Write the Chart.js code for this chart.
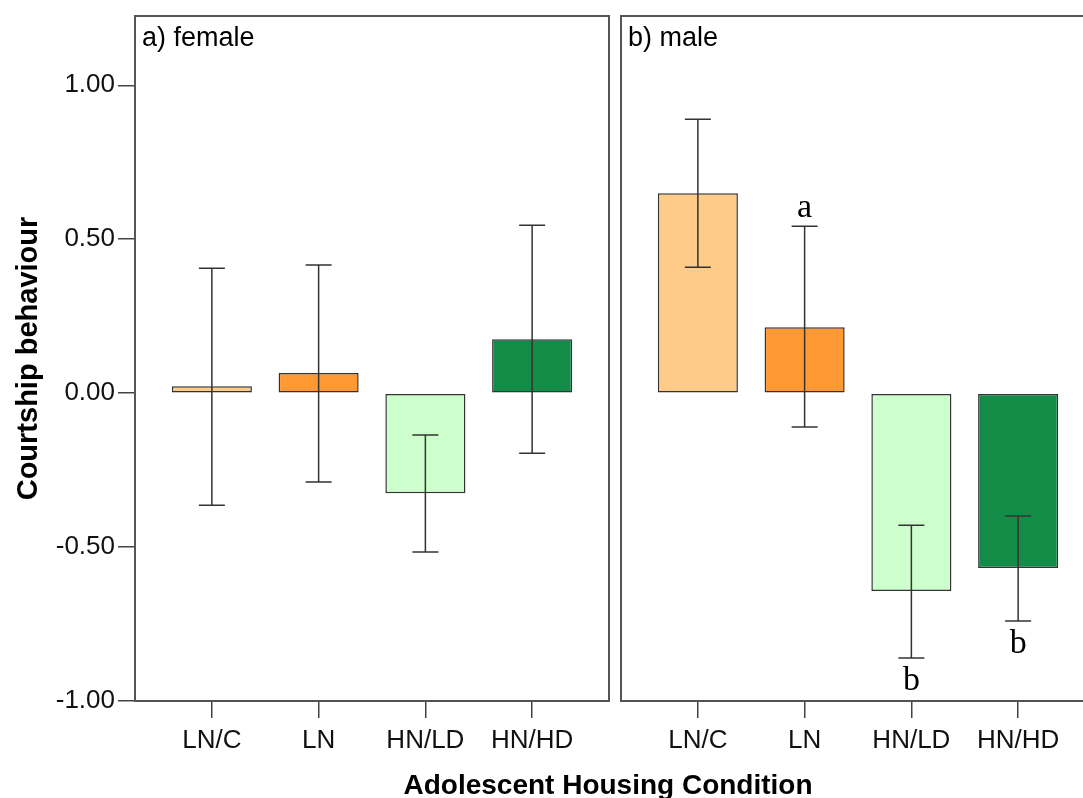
<!DOCTYPE html>
<html>
<head>
<meta charset="utf-8">
<title>Courtship behaviour</title>
<script src="https://cdn.jsdelivr.net/npm/chart.js@4.4.1/dist/chart.umd.min.js"></script>
<style>
  html, body { margin: 0; padding: 0; background: #fff; }
  body { width: 1083px; height: 798px; overflow: hidden; position: relative; }
  #femaleWrap { position: absolute; left: 0; top: 0; }
  #maleWrap { position: absolute; left: 611px; top: 0; }
  #xTitle {
    position: absolute; left: 0; top: 769px; width: 1216px;
    text-align: center; line-height: 28px;
    font: bold 28px 'Liberation Sans', Arial, sans-serif; color: #000;
  }
</style>
</head>
<body>
<div id="femaleWrap"><canvas id="femaleChart" width="620" height="798"></canvas></div>
<div id="maleWrap"><canvas id="maleChart" width="495" height="798"></canvas></div>
<div id="xTitle">Adolescent Housing Condition</div>

<script>
// Data
const categories = ['LN/C', 'LN', 'HN/LD', 'HN/HD'];
const barColors = ['#FECC88', '#FE9933', '#CCFFCC', '#128C47'];
const yTicks = [-1, -0.5, 0, 0.5, 1];

const femaleMeans = [0.022, 0.065, -0.325, 0.175];
const femaleUpper = [0.406, 0.416, -0.136, 0.545];
const femaleLower = [-0.364, -0.289, -0.516, -0.195];

const maleMeans = [0.649, 0.214, -0.643, -0.568];
const maleUpper = [0.890, 0.542, -0.429, -0.399];
const maleLower = [0.409, -0.110, -0.860, -0.740];

// huruf signifikansi: di atas / di bawah error bar
const maleLettersAbove = ['', 'a', '', ''];
const maleLettersBelow = ['', '', 'b', 'b'];

const SANS = "'Liberation Sans', Arial, sans-serif";
const SERIF = "'Liberation Serif', 'Times New Roman', serif";

// Error bar + huruf
const errorBarPlugin = {
    id: 'errorBars',
    afterDatasetsDraw(chart, args, opts) {
        const { ctx, scales: { x, y } } = chart;
        ctx.save();
        ctx.strokeStyle = '#333';
        ctx.lineWidth = 1.5;
        opts.lower.forEach((lo, i) => {
            const px = x.getPixelForValue(i);
            const yTop = y.getPixelForValue(opts.upper[i]);
            const yBot = y.getPixelForValue(lo);
            ctx.beginPath();
            ctx.moveTo(px, yTop); ctx.lineTo(px, yBot);
            ctx.moveTo(px - 13, yTop); ctx.lineTo(px + 13, yTop);
            ctx.moveTo(px - 13, yBot); ctx.lineTo(px + 13, yBot);
            ctx.stroke();
        });

        ctx.fillStyle = '#000';
        ctx.font = '34px ' + SERIF;
        ctx.textAlign = 'center';
        ctx.textBaseline = 'alphabetic';
        (opts.above || []).forEach((t, i) => {
            if (t) ctx.fillText(t, x.getPixelForValue(i), y.getPixelForValue(opts.upper[i]) - 9);
        });
        (opts.below || []).forEach((t, i) => {
            if (t) ctx.fillText(t, x.getPixelForValue(i), y.getPixelForValue(opts.lower[i]) + 32);
        });
        ctx.restore();
    }
};

// Bingkai panel + label panel
const panelFramePlugin = {
    id: 'panelFrame',
    afterDraw(chart, args, opts) {
        const { ctx, chartArea: a } = chart;
        ctx.save();
        ctx.strokeStyle = '#555';
        ctx.lineWidth = 2;
        ctx.strokeRect(a.left, a.top, a.right - a.left, a.bottom - a.top);
        ctx.fillStyle = '#000';
        ctx.font = '27px ' + SANS;
        ctx.textAlign = 'left';
        ctx.textBaseline = 'alphabetic';
        ctx.fillText(opts.label, a.left + 7, a.top + 30);
        ctx.restore();
    }
};

function makePanel(canvasId, label, means, lower, upper, above, below, showY) {
    return new Chart(document.getElementById(canvasId), {
        type: 'bar',
        data: {
            datasets: [{
                data: means.map((m, i) => ({ x: i, y: m })),
                backgroundColor: barColors,
                borderColor: '#333',
                borderWidth: 1.5,
                borderSkipped: false,
                barPercentage: 0.75,
                categoryPercentage: 1
            }]
        },
        options: {
            responsive: false,
            animation: false,
            devicePixelRatio: 1,
            layout: { padding: { top: 16, right: 11, bottom: 0, left: 0 } },
            plugins: {
                legend: { display: false },
                tooltip: { enabled: false },
                errorBars: { lower, upper, above, below },
                panelFrame: { label }
            },
            scales: {
                x: {
                    type: 'linear',
                    offset: false,
                    min: -0.72,
                    max: 3.72,
                    afterBuildTicks: s => { s.ticks = categories.map((_, i) => ({ value: i })); },
                    afterFit: s => { s.height = 97; s.paddingLeft = 0; s.paddingRight = 0; },
                    border: { display: false },
                    grid: { offset: false, drawOnChartArea: false, tickLength: 17, color: '#444', lineWidth: 1.5 },
                    ticks: {
                        callback: v => categories[v],
                        font: { family: SANS, size: 26 },
                        color: '#111',
                        padding: 7,
                        maxRotation: 0,
                        autoSkip: false
                    }
                },
                y: {
                    min: -1,
                    max: 1.225,
                    afterBuildTicks: s => { s.ticks = yTicks.map(v => ({ value: v })); },
                    afterFit: s => { s.width = showY ? 135 : 10; s.paddingTop = 0; s.paddingBottom = 0; },
                    border: { display: false },
                    grid: { drawOnChartArea: false, drawTicks: showY, tickLength: 17, color: '#444', lineWidth: 1.5 },
                    ticks: {
                        display: showY,
                        callback: v => v.toFixed(2),
                        font: { family: SANS, size: 26 },
                        color: '#111',
                        padding: 3
                    },
                    title: {
                        display: showY,
                        text: 'Courtship behaviour',
                        font: { family: SANS, size: 29, weight: 'bold' },
                        color: '#000',
                        padding: { top: 12, bottom: 0 }
                    }
                }
            }
        },
        plugins: [errorBarPlugin, panelFramePlugin]
    });
}

makePanel('femaleChart', 'a) female', femaleMeans, femaleLower, femaleUpper, [], [], true);
makePanel('maleChart', 'b) male', maleMeans, maleLower, maleUpper, maleLettersAbove, maleLettersBelow, false);
</script>
</body>
</html>
